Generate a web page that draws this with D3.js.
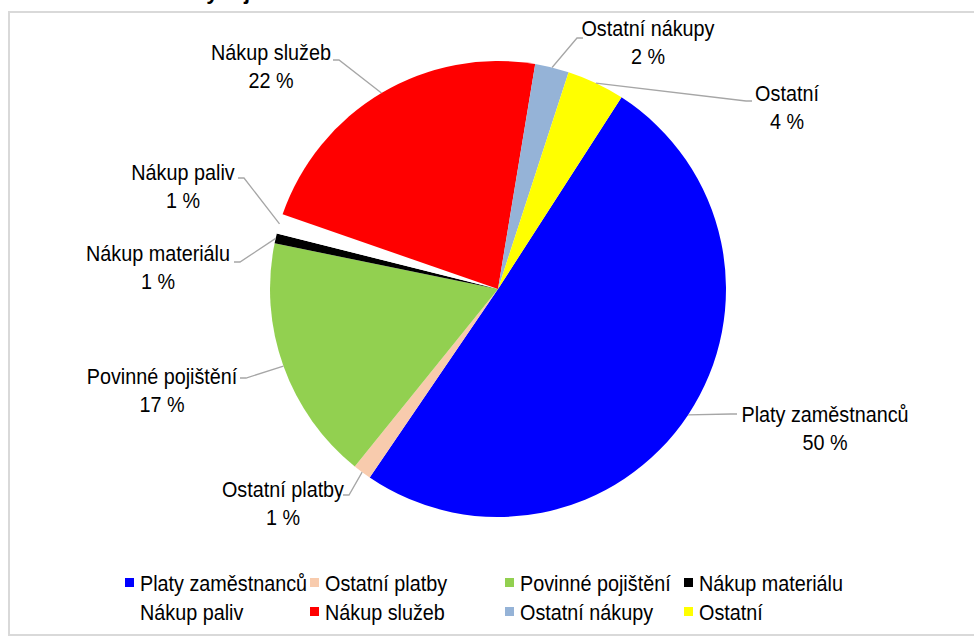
<!DOCTYPE html>
<html>
<head>
<meta charset="utf-8">
<script src="https://cdn.jsdelivr.net/npm/d3@7"></script>
<style>
  body { margin: 0; background: #fff; }
  svg { display: block; }
</style>
</head>
<body>
<div id="chart"></div>
<script>
// data (shares in %)
const categories = ['Platy zaměstnanců', 'Ostatní platby', 'Povinné pojištění', 'Nákup materiálu',
  'Nákup paliv', 'Nákup služeb', 'Ostatní nákupy', 'Ostatní'];
const values = [50.4, 1.3, 17.4, 0.7, 1.4, 22.3, 2.4, 4.1];
const colors = ['#0000ff', '#f8cbad', '#92d050', '#000000', '#ffffff', '#ff0000', '#95b3d7', '#ffff00'];

// where each data label sits (text centre of first line) and where its leader line ends
const labelLayout = [
  { x: 825, y: 414, lx: 737, ly: 414 },
  { x: 283, y: 489, lx: 343, ly: 495 },
  { x: 162, y: 376, lx: 240, ly: 378 },
  { x: 158, y: 253, lx: 234, ly: 262 },
  { x: 183, y: 172, lx: 238, ly: 178 },
  { x: 271, y: 52, lx: 333, ly: 60 },
  { x: 648, y: 28, lx: 583, ly: 38 },
  { x: 787, y: 93, lx: 752, ly: 101 }
];

const W = 974, H = 639;
const font = "'Liberation Sans', Arial, sans-serif";
const squeeze = 0.9; // reference text is a narrow face
const cx = 498, cy = 289, r = 228;

const svg = d3.select('#chart').append('svg').attr('width', W).attr('height', H);

// chart frame (runs off the right edge)
svg.append('rect').attr('x', 9).attr('y', 12).attr('width', 1000).attr('height', 623)
  .attr('fill', '#fff').attr('stroke', '#d9d9d9').attr('stroke-width', 2);

// title, cut off by the top of the picture
svg.append('text').attr('x', 90).attr('y', -1)
  .attr('font-family', font).attr('font-weight', 'bold').attr('font-size', '22px')
  .attr('fill', '#000').text('Struktura výdajů');

function narrowText(x, y, str, anchor) {
  return svg.append('g').attr('transform', `translate(${x},${y}) scale(${squeeze},1)`)
    .append('text').attr('text-anchor', anchor)
    .attr('font-family', font).attr('font-size', '22px').attr('fill', '#000').text(str);
}

const pie = d3.pie().sort(null).value(d => d)
  .startAngle(32.8 * Math.PI / 180).endAngle(32.8 * Math.PI / 180 + 2 * Math.PI);
const arcs = pie(values);
const arc = d3.arc().innerRadius(0).outerRadius(r);

const g = svg.append('g').attr('transform', `translate(${cx},${cy})`);
g.selectAll('path').data(arcs).join('path')
  .attr('d', arc).attr('fill', (d, i) => colors[i]);

// leader lines
arcs.forEach((a, i) => {
  const mid = (a.startAngle + a.endAngle) / 2;
  const px = cx + r * Math.sin(mid), py = cy - r * Math.cos(mid);
  const L = labelLayout[i];
  const side = L.lx < px ? 1 : -1;
  svg.append('polyline')
    .attr('points', `${px},${py} ${L.lx + side * 6},${L.ly} ${L.lx},${L.ly}`)
    .attr('fill', 'none').attr('stroke', '#a6a6a6').attr('stroke-width', 1.3);
});

// data labels
arcs.forEach((a, i) => {
  const L = labelLayout[i];
  narrowText(L.x, L.y + 8, categories[i], 'middle');
  narrowText(L.x, L.y + 36, Math.round(values[i]) + ' %', 'middle');
});

// legend, two rows of four
const legX = [125, 310, 505, 684], legY = [583, 612];
categories.forEach((c, i) => {
  const x = legX[i % 4], y = legY[Math.floor(i / 4)];
  svg.append('rect').attr('x', x).attr('y', y - 5).attr('width', 9).attr('height', 9)
    .attr('fill', colors[i]);
  narrowText(x + 15, y + 8, c, 'start');
});
</script>
</body>
</html>
